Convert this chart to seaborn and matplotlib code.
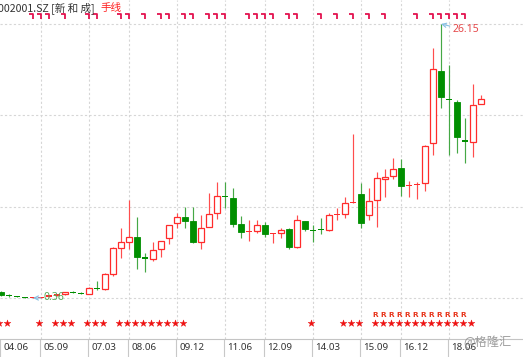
import numpy as np
import pandas as pd
import matplotlib
matplotlib.use("Agg")
import matplotlib.pyplot as plt
import seaborn as sns
from matplotlib.path import Path
from matplotlib.transforms import ScaledTranslation, blended_transform_factory

# ---------------- data ----------------
quarters = [str(p) for p in pd.period_range("2004Q2", periods=61, freq="Q")]
opens = [0.92, 0.59, 0.49, 0.42, 0.38, 0.42, 0.54, 0.63, 0.71, 0.91,
         0.81, 0.74, 1.30, 1.21, 2.62, 5.09, 5.60, 6.13, 4.17, 4.06,
         4.94, 5.98, 7.39, 7.96, 7.61, 5.63, 7.07, 8.33, 9.95, 9.74,
         7.30, 6.57, 6.67, 7.23, 6.42, 6.51, 6.83, 5.19, 7.58, 6.76,
         6.82, 6.76, 8.21, 8.29, 9.33, 10.15, 8.14, 9.56, 11.53, 11.84,
         12.57, 10.93, 11.03, 11.21, 14.92, 21.73, 19.11, 18.78, 15.19, 15.01,
         18.59]
highs = [1.02, 0.69, 0.55, 0.45, 0.45, 0.50, 0.64, 0.74, 0.97, 1.05,
         0.88, 1.37, 1.96, 2.68, 5.19, 6.92, 9.58, 7.96, 4.62, 5.66,
         5.74, 7.26, 8.39, 8.90, 8.90, 8.17, 10.21, 11.31, 11.31, 10.69,
         8.11, 7.70, 7.70, 7.49, 6.51, 6.98, 6.92, 8.17, 7.64, 7.23,
         7.92, 8.33, 8.86, 9.89, 15.80, 11.21, 10.69, 12.19, 12.47, 13.51,
         13.41, 11.40, 11.31, 14.76, 23.86, 26.15, 22.29, 18.95, 17.30, 20.50,
         19.47]
lows = [0.55, 0.45, 0.41, 0.38, 0.36, 0.37, 0.45, 0.55, 0.64, 0.80,
        0.74, 0.71, 1.11, 1.11, 2.46, 4.15, 4.97, 3.06, 2.84, 3.84,
        4.25, 5.41, 6.92, 6.92, 5.51, 4.97, 7.04, 7.77, 8.80, 7.07,
        6.04, 5.75, 6.48, 6.13, 5.56, 6.04, 4.94, 5.04, 6.67, 5.66,
        6.36, 6.67, 7.70, 7.86, 9.27, 6.92, 7.70, 7.07, 9.89, 11.56,
        9.99, 9.84, 9.68, 10.43, 13.82, 18.27, 13.82, 14.01, 13.04, 13.66,
        18.59]
closes = [0.64, 0.57, 0.47, 0.40, 0.40, 0.44, 0.56, 0.66, 0.90, 0.89,
          0.79, 1.27, 1.24, 2.62, 5.04, 5.60, 6.13, 4.25, 4.07, 4.88,
          5.70, 7.23, 7.96, 7.64, 5.60, 6.98, 8.27, 9.96, 9.83, 7.30,
          6.60, 6.63, 7.20, 6.36, 6.48, 6.73, 5.19, 7.70, 6.83, 6.70,
          6.76, 8.17, 8.27, 9.27, 9.40, 7.39, 9.52, 11.63, 11.75, 12.47,
          10.90, 11.00, 11.09, 14.67, 21.89, 19.31, 19.01, 15.54, 15.09, 18.50,
          19.06]

tick_idx = [0, 5, 11, 16, 22, 28, 33, 39, 45, 50, 56]
tick_labels = ["04.06", "05.09", "07.03", "08.06", "09.12", "11.06",
               "12.09", "14.03", "15.09", "16.12", "18.06"]

top_mark_idx = [4, 5, 6, 8, 11, 12, 15, 16, 18, 20, 21, 23, 24, 26, 27, 28,
                31, 32, 33, 34, 36, 37, 40, 42, 44, 46, 48, 52, 54, 55, 56, 57, 58]
star_idx = [0, 1, 5, 7, 8, 9, 11, 12, 13, 15, 16, 17, 18, 19, 20, 21, 22, 23,
            39, 43, 44, 45, 47, 48, 49, 50, 51, 52, 53, 54, 55, 56, 57, 58, 59]
r_idx = [47, 48, 49, 50, 51, 52, 53, 54, 55, 56, 57, 58]

title_main = "002001.SZ [新 和 成]"
title_period = "手线"
hi_label = "26.15"
lo_label = "0.36"
watermark = "@格隆汇"

# ---------------- style ----------------
sns.set_theme(style="white")
plt.rcParams["font.family"] = ["Noto Sans", "DejaVu Sans"]
CJK = ["Noto Sans CJK SC", "DejaVu Sans"]

RED = "#ff2b2b"
GREEN = "#008f00"
GRID = "#d6d6d6"

W, H = 523, 357
AX_BOTTOM_PX = 339
fig = plt.figure(figsize=(W / 100, H / 100), dpi=100)
ax = fig.add_axes([0, (H - AX_BOTTOM_PX) / H, 1, AX_BOTTOM_PX / H])
ax.set_facecolor("white")

df = pd.DataFrame({"q": quarters, "open": opens, "high": highs,
                   "low": lows, "close": closes})
df["i"] = np.arange(len(df))
df["up"] = df["close"] >= df["open"]

# pixel <-> price scale: 0.36 at px 298, 26.15 at px 24
lo_p, hi_p = 0.36, 26.15
per_px = (hi_p - lo_p) / (298 - 24)
ax.set_ylim(lo_p - (AX_BOTTOM_PX - 298) * per_px, lo_p + 298 * per_px)
ax.set_xlim(-1 / 8, (W - 1) / 8)

# wicks
for _, r in df.iterrows():
    wcol = "#ff4d4d" if r.up else "#45a845"
    ax.vlines(r.i, r.low, r.high, color=wcol, lw=0.85, zorder=2)

# bodies
bw = 0.66
min_h = 1.2 * per_px
for _, r in df.iterrows():
    h = abs(r.close - r.open)
    b = min(r.open, r.close)
    if h < 1.6 * per_px:  # doji-like dash
        mid = (r.open + r.close) / 2
        ax.bar(r.i, min_h, bottom=mid - min_h / 2, width=bw + 0.1,
               color=RED if r.up else GREEN, edgecolor="none", zorder=3)
    elif r.up:
        ax.bar(r.i, h, bottom=b, width=bw, facecolor="white",
               edgecolor=RED, linewidth=0.9, zorder=3)
    else:
        ax.bar(r.i, h, bottom=b, width=bw, facecolor=GREEN,
               edgecolor=GREEN, linewidth=0.6, zorder=3)

# grid
grid_prices = [lo_p + k * (hi_p - lo_p) / 3 for k in range(4)]
for gp in grid_prices:
    ax.axhline(gp, color=GRID, lw=0.8, ls=(0, (2, 2)), zorder=0)
for ti in tick_idx[1:]:
    ax.axvline(ti - 0.05, color=GRID, lw=0.8, ls=(0, (2, 2)), zorder=0)

# x axis
ax.set_yticks([])
ax.set_xticks(tick_idx)
ax.set_xticklabels(tick_labels, ha="left", fontsize=7, color="#333333")
ax.tick_params(axis="x", length=0, pad=3)
shift = ScaledTranslation(2.5 / 100, 0, fig.dpi_scale_trans)
for lab in ax.get_xticklabels():
    lab.set_transform(lab.get_transform() + shift)
for s in ["top", "left", "right"]:
    ax.spines[s].set_visible(False)
ax.spines["bottom"].set_color("#c4c4c4")
ax.spines["bottom"].set_linewidth(0.8)
ax.vlines([t - 0.12 for t in tick_idx], -18 / AX_BOTTOM_PX, 0,
          transform=ax.get_xaxis_transform(), clip_on=False,
          color="#c8c8c8", lw=0.8)

# blended transform (x data, y axes fraction)
bt = blended_transform_factory(ax.transData, ax.transAxes)
off = ScaledTranslation(-2 / 100, 0, fig.dpi_scale_trans)

def yfrac(px):
    return (AX_BOTTOM_PX - px) / AX_BOTTOM_PX

# top markers
mark = Path([(-1.0, 0.8), (1.0, 0.8), (1.0, -1.2)],
            [Path.MOVETO, Path.LINETO, Path.LINETO])
ax.plot(top_mark_idx, [yfrac(16)] * len(top_mark_idx), ls="none",
        marker=mark, markersize=4.2, mec="#e3124f", mfc="none", mew=1.3,
        transform=bt + off, clip_on=False, zorder=5)

# star markers via seaborn
star_df = pd.DataFrame({"i": star_idx, "y": [yfrac(323)] * len(star_idx)})
sns.scatterplot(data=star_df, x="i", y="y", marker="*", s=26, color="#ee1111",
                edgecolor="#ee1111", linewidth=0.3, ax=ax, legend=False,
                transform=bt + off, clip_on=False, zorder=5)

for ri in r_idx:
    ax.text(ri, yfrac(315), "R", transform=bt + off, ha="center", va="center",
            fontsize=5.3, color="#e8361c", fontweight="bold", family="DejaVu Sans")

# annotations
ax.annotate(hi_label, xy=(55, hi_p), xytext=(12, -6), textcoords="offset pixels",
            ha="left", va="center", fontsize=7.5, color="#e5484a",
            arrowprops=dict(arrowstyle="->", color="#86bfe3", lw=0.8,
                            shrinkA=0, shrinkB=0), zorder=6)
ax.annotate(lo_label, xy=(4, lo_p), xytext=(11, 0), textcoords="offset pixels",
            ha="left", va="center", fontsize=7.5, color="#55aa55",
            arrowprops=dict(arrowstyle="->", color="#86bfe3", lw=0.8,
                            shrinkA=0, shrinkB=0), zorder=6)

# title
t1 = fig.text(-2 / W, 1 - 8 / H, title_main, ha="left", va="center",
              fontsize=7.6, color="#333333", family=CJK)
fig.canvas.draw()
bb = t1.get_window_extent()
fig.text((bb.x1 + 6) / W, 1 - 8 / H, title_period, ha="left", va="center",
         fontsize=7.6, color="#ff2020", family=CJK)

# watermark
fig.text(463 / W, 1 - 342 / H, watermark, ha="left", va="center",
         fontsize=8.8, color="#8c8c8c", alpha=0.85, family=CJK)

fig.savefig("out.png", dpi=100)
